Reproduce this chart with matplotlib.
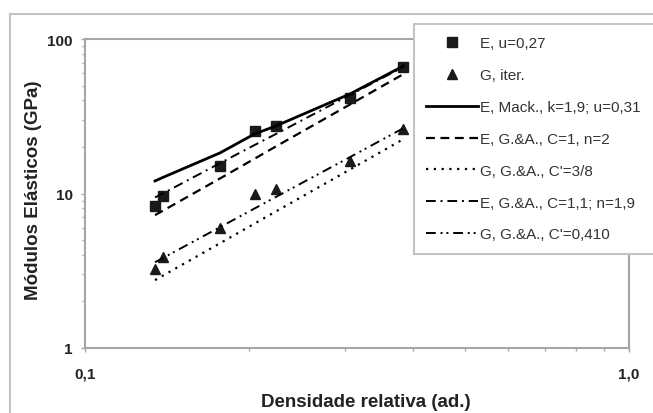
import matplotlib.pyplot as plt
from matplotlib.lines import Line2D
from matplotlib.ticker import FixedLocator, LogLocator, NullFormatter

plt.rcParams['font.family'] = ['Liberation Sans', 'DejaVu Sans']

# densidade relativa das amostras
dens = [0.1345, 0.139, 0.177, 0.205, 0.224, 0.307, 0.385]

# valores medidos (GPa)
E_exp = [8.3, 9.6, 15.1, 25.4, 27.3, 41.5, 65.9]
G_exp = [3.25, 3.88, 5.98, 9.93, 10.7, 16.2, 26.2]

# modelos
E_mack = [12.05, 12.7, 18.3, 24.3, 27.3, 44.1, 66.9]
E_ga_n2 = [7.24, 7.73, 12.5, 16.8, 20.1, 37.7, 59.3]
G_ga_38 = [2.75, 2.94, 4.76, 6.39, 7.63, 14.3, 22.5]
E_ga_n19 = [9.43, 10.0, 15.7, 20.6, 24.2, 43.4, 66.0]
G_ga_041 = [3.59, 3.82, 6.05, 8.0, 9.47, 17.2, 26.5]

labels = ['E, u=0,27', 'G, iter.', 'E, Mack., k=1,9; u=0,31',
          'E, G.&A., C=1, n=2', "G, G.&A., C'=3/8",
          'E, G.&A., C=1,1; n=1,9', "G, G.&A., C'=0,410"]

W, H = 653, 414
fig = plt.figure(figsize=(W / 100, H / 100), dpi=100)
ax = fig.add_axes([85 / W, 1 - 349 / H, (629 - 85) / W, (349 - 40) / H])

k = 'black'
h1, = ax.plot(dens, E_exp, 's', color='#1a1a1a', ms=7.8, ls='none')
h2, = ax.plot(dens, G_exp, '^', color='#1a1a1a', ms=7.8, ls='none')
h3, = ax.plot(dens, E_mack, color=k, lw=2.0)
h4, = ax.plot(dens, E_ga_n2, color=k, lw=1.6, dashes=(4, 2.5))
h5, = ax.plot(dens, G_ga_38, color=k, lw=1.6, dashes=(1, 2.5))
h6, = ax.plot(dens, E_ga_n19, color=k, lw=1.4, dashes=(5, 2.5, 1, 2.5))
h7, = ax.plot(dens, G_ga_041, color=k, lw=1.4, dashes=(5, 2.5, 1, 2, 1, 2.5))

ax.set_xscale('log')
ax.set_yscale('log')
ax.set_xlim(0.1, 1.0)
ax.set_ylim(1, 100)

ax.xaxis.set_major_locator(FixedLocator([0.1, 1.0]))
ax.set_xticklabels(['0,1', '1,0'])
ax.xaxis.set_minor_locator(LogLocator(base=10, subs=range(2, 10)))
ax.xaxis.set_minor_formatter(NullFormatter())
ax.yaxis.set_major_locator(FixedLocator([1, 10, 100]))
ax.set_yticklabels(['1', '10', '100'])
ax.yaxis.set_minor_locator(LogLocator(base=10, subs=range(2, 10)))
ax.yaxis.set_minor_formatter(NullFormatter())

grey = '#a6a6a6'
for s in ax.spines.values():
    s.set_color(grey)
    s.set_linewidth(1.5)
ax.tick_params(which='both', color=grey, width=1, direction='out')
ax.tick_params(which='major', length=3)
ax.tick_params(which='minor', length=2)
ax.tick_params(axis='y', which='major', pad=6)
ax.tick_params(axis='x', which='major', pad=10)
for t in ax.get_xticklabels() + ax.get_yticklabels():
    t.set_fontweight('bold')
    t.set_fontsize(11)
    t.set_color('#222222')

ax.set_xlabel('Densidade relativa (ad.)', fontsize=13.5, fontweight='bold',
              color='#222222')
ax.set_ylabel('Módulos Elásticos (GPa)', fontsize=13.5, fontweight='bold',
              color='#222222')
ax.xaxis.set_label_coords((366 - 85) / 544, -(403 - 349) / 309)
ax.yaxis.set_label_coords(-(85 - 33) / 544, (349 - 190) / 309)
ax.xaxis.label.set_va('center')
ax.yaxis.label.set_va('center')

# moldura externa
fig.add_artist(Line2D([10 / W, 1], [1 - 15 / H] * 2, color='#c4c4c4', lw=1.5))
fig.add_artist(Line2D([10 / W] * 2, [0, 1 - 15 / H], color='#c4c4c4', lw=1.5))

leg = fig.legend([h1, h2, h3, h4, h5, h6, h7], labels,
                 loc='upper left', bbox_to_anchor=(414 / W, 1 - 25 / H, 0.5, 0),
                 mode='expand', fontsize=11, handlelength=3.4, handletextpad=0.15,
                 labelspacing=1.17, borderpad=0.8, borderaxespad=0,
                 fancybox=False, framealpha=1, edgecolor='#c4c4c4')
leg.get_frame().set_linewidth(1.5)
for t in leg.get_texts():
    t.set_color('#333333')

fig.savefig('out.png', dpi=100)
